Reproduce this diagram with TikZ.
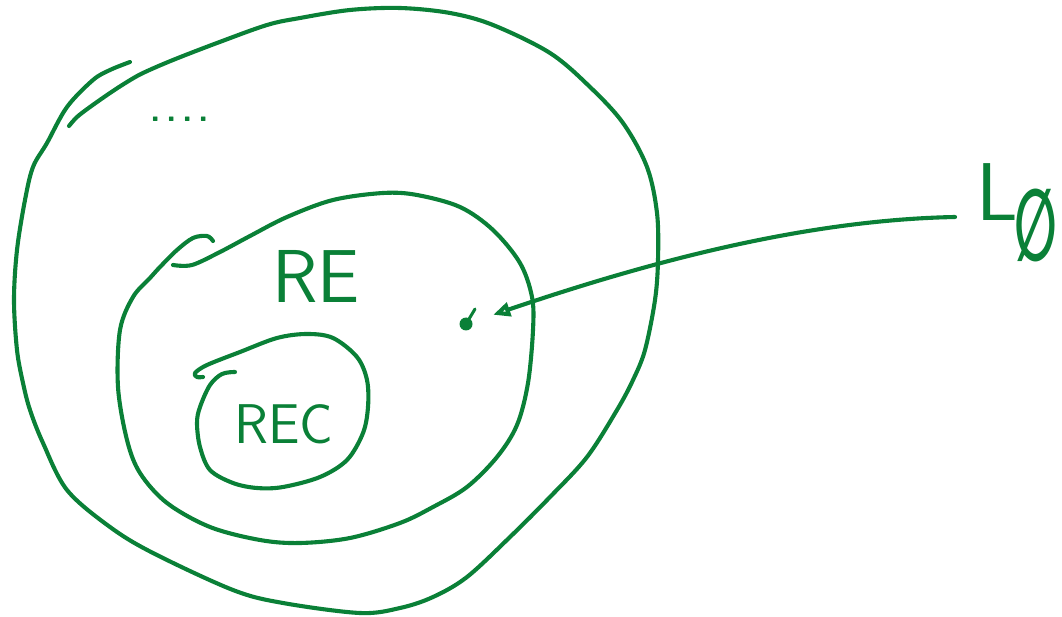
\documentclass[tikz,border=0pt]{standalone}
\usepackage{fontspec}
\usetikzlibrary{arrows.meta}
\newfontfamily\dvfont{DejaVu Sans}
\definecolor{ink}{RGB}{10,128,55}
\begin{document}
\begin{tikzpicture}[x=1pt,y=-1pt,
  pen/.style={draw=ink, line width=4.1pt, line cap=round, line join=round},
  lab/.style={text=ink, inner sep=0pt, font=\sffamily}]
\useasboundingbox (0,0) rectangle (1062,617);
% outer region
\draw[pen] plot[smooth, tension=0.55] coordinates {
 (130,62) (110,70) (93,80) (67,107) (47,143) (33,167) (25,200) (17,250) (14,300)
 (17,350) (23,383) (30,410) (43,443) (67,490) (110,527) (153,553) (233,590)
 (283,603) (360,613) (400,608) (433,597) (467,577) (510,537) (550,497) (587,457)
 (617,410) (633,380) (645,350) (655,300) (658,260) (657,213) (647,167) (623,123)
 (590,87) (550,53) (493,25) (450,13) (400,8) (350,10) (300,18) (267,25) (217,43)
 (173,60) (143,73) (127,82) (110,93) (90,107) (77,117) (69,126)};
% RE region
\draw[pen] plot[smooth, tension=0.55] coordinates {
 (213,241) (207,236) (193,238) (177,250) (160,267) (150,278) (133,297) (120,330)
 (118,387) (127,440) (140,473) (167,503) (210,527) (260,540) (300,543) (350,538)
 (400,523) (433,507) (467,487) (497,457) (517,425) (528,383) (533,330) (532,297)
 (520,263) (493,230) (460,207) (417,195) (383,193) (333,200) (287,217)
 (250,236) (220,252) (192,265) (173,265)};
% REC region
\draw[pen] plot[smooth, tension=0.55] coordinates {
 (235,372) (222,374) (210,385) (200,407) (197,423) (200,447) (210,470) (233,483)
 (257,488) (283,487) (320,477) (347,460) (363,433) (368,407) (367,380) (357,357)
 (333,338) (307,334) (277,338) (240,352) (207,365) (195,373) (197,377) (203,377)};
% labels
\node[lab, font=\sffamily\fontsize{75}{75}\selectfont] (re) at (316,276) {RE};
\node[lab, font=\sffamily\fontsize{56}{56}\selectfont] (rec) at (284,424) {REC};
\node[lab, font=\sffamily\bfseries\fontsize{34}{34}\selectfont] (dots) at (180,119) {.\,.\,.\,.};
\node[lab, anchor=base west, font=\sffamily\fontsize{82}{82}\selectfont] (L) at (976,221) {L};
\node[lab, font=\dvfont\bfseries\fontsize{100}{100}\selectfont] (empty) at (1036,225) {\scalebox{0.5}[1]{∅}};
% the element
\node[circle, fill=ink, inner sep=0pt, minimum size=13pt] (dot) at (466,324) {};
\draw[pen, line width=3pt] (dot.center) -- (475,309);
\coordinate (Lstart) at (955,217);
\draw[pen, -{Triangle[open, length=17pt, width=14pt]}, shorten >=22pt]
  (Lstart) .. controls (800,220) and (640,265) .. (dot);
\end{tikzpicture}
\end{document}
